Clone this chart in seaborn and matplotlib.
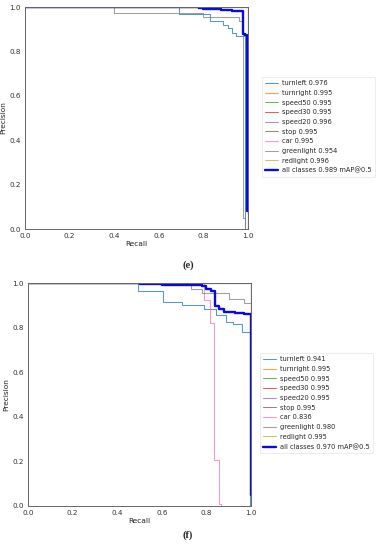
import matplotlib
matplotlib.use("Agg")
import matplotlib.pyplot as plt
import seaborn as sns
import pandas as pd

sns.set_style("white")
plt.rcParams['font.family'] = ['DejaVu Sans']

class_names = ["turnleft", "turnright", "speed50", "speed30", "speed20",
               "stop", "car", "greenlight", "redlight"]
class_colors = sns.color_palette("tab10", 9)

# ---- panel (e) ----
ap_e = [0.976, 0.995, 0.995, 0.995, 0.996, 0.995, 0.995, 0.954, 0.996]
map_e = 0.989
flat_r = [0.0, 0.998, 1.0]
flat_p = [1.0, 0.0, 0.0]
rec_e = {
    "turnleft": [0.0, 0.69, 0.83, 0.89, 0.91, 0.93, 0.945, 0.988, 1.0],
    "greenlight": [0.0, 0.40, 0.80, 0.96, 0.976, 0.986],
}
prec_e = {
    "turnleft": [1.0, 0.97, 0.935, 0.92, 0.905, 0.885, 0.87, 0.0, 0.0],
    "greenlight": [1.0, 0.975, 0.955, 0.935, 0.05, 0.0],
}
all_rec_e = [0.0, 0.78, 0.80, 0.83, 0.88, 0.93, 0.978, 0.985, 0.997, 1.0]
all_prec_e = [1.0, 0.997, 0.993, 0.99, 0.985, 0.98, 0.88, 0.875, 0.08, 0.08]

# ---- panel (f) ----
ap_f = [0.941, 0.995, 0.995, 0.995, 0.995, 0.995, 0.836, 0.980, 0.995]
map_f = 0.970
rec_f = {
    "turnleft": [0.0, 0.495, 0.607, 0.69, 0.79, 0.845, 0.89, 0.92, 0.96, 0.997, 1.0],
    "car": [0.0, 0.79, 0.815, 0.835, 0.858, 0.866],
    "greenlight": [0.0, 0.73, 0.78, 0.90, 0.97, 0.998, 1.0],
}
prec_f = {
    "turnleft": [1.0, 0.966, 0.916, 0.90, 0.885, 0.855, 0.825, 0.815, 0.78, 0.0, 0.0],
    "car": [1.0, 0.923, 0.82, 0.205, 0.01, 0.0],
    "greenlight": [1.0, 0.975, 0.955, 0.93, 0.91, 0.0, 0.0],
}
all_rec_f = [0.0, 0.50, 0.60, 0.72, 0.78, 0.80, 0.82, 0.84, 0.855, 0.88, 0.93, 0.97, 0.998, 1.0]
all_prec_f = [1.0, 0.997, 0.993, 0.99, 0.985, 0.975, 0.965, 0.895, 0.885, 0.87, 0.865, 0.86, 0.05, 0.05]

W, H = 379, 550
fig = plt.figure(figsize=(W / 100, H / 100), dpi=100)
ax_e = fig.add_axes([25 / W, (H - 229) / H, 223 / W, 222 / H])
ax_f = fig.add_axes([28 / W, (H - 506) / H, 223 / W, 223 / H])


def draw(ax, aps, mp, recs, precs, all_r, all_p, leg_anchor):
    for i, name in enumerate(class_names):
        r = recs.get(name, flat_r)
        p = precs.get(name, flat_p)
        df = pd.DataFrame({"Recall": r, "Precision": p})
        sns.lineplot(data=df, x="Recall", y="Precision", ax=ax, sort=False,
                     estimator=None, drawstyle="steps-post", color=class_colors[i],
                     linewidth=0.75, alpha=0.75, label=f"{name} {aps[i]:.3f}")
    df = pd.DataFrame({"Recall": all_r, "Precision": all_p})
    sns.lineplot(data=df, x="Recall", y="Precision", ax=ax, sort=False,
                 estimator=None, drawstyle="steps-post", color="#0a0adc",
                 linewidth=1.7, label=f"all classes {mp:.3f} mAP@0.5")
    ax.set_xlim(0, 1)
    ax.set_ylim(0, 1)
    ax.set_xticks([0, 0.2, 0.4, 0.6, 0.8, 1.0])
    ax.set_yticks([0, 0.2, 0.4, 0.6, 0.8, 1.0])
    ax.tick_params(labelsize=5.2, length=2, width=0.5, pad=1, colors="#333333")
    ax.set_xlabel("Recall", fontsize=5.3, labelpad=1.5, color="#222222")
    ax.set_ylabel("Precision", fontsize=5.3, labelpad=2, color="#222222")
    for s in ax.spines.values():
        s.set_color("#666666")
        s.set_linewidth(0.7)
    leg = ax.legend(loc="upper left", bbox_to_anchor=leg_anchor, borderaxespad=0,
                    fontsize=4.8, frameon=True, handlelength=1.9,
                    labelspacing=0.55, borderpad=0.5, handletextpad=0.6, fancybox=True)
    leg.get_frame().set_linewidth(0.5)
    leg.get_frame().set_edgecolor("#dddddd")


draw(ax_e, ap_e, map_e, rec_e, prec_e, all_rec_e, all_prec_e, (1.063, 0.685))
draw(ax_f, ap_f, map_f, rec_f, prec_f, all_rec_f, all_prec_f, (1.04, 0.686))

fig.text(188 / W, 1 - 265 / H, "(e)", ha="center", va="center",
         fontsize=7.5, family="Liberation Serif", fontweight="bold")
fig.text(188 / W, 1 - 535 / H, "(f)", ha="center", va="center",
         fontsize=7.5, family="Liberation Serif", fontweight="bold")

fig.savefig("out.png", dpi=100)
